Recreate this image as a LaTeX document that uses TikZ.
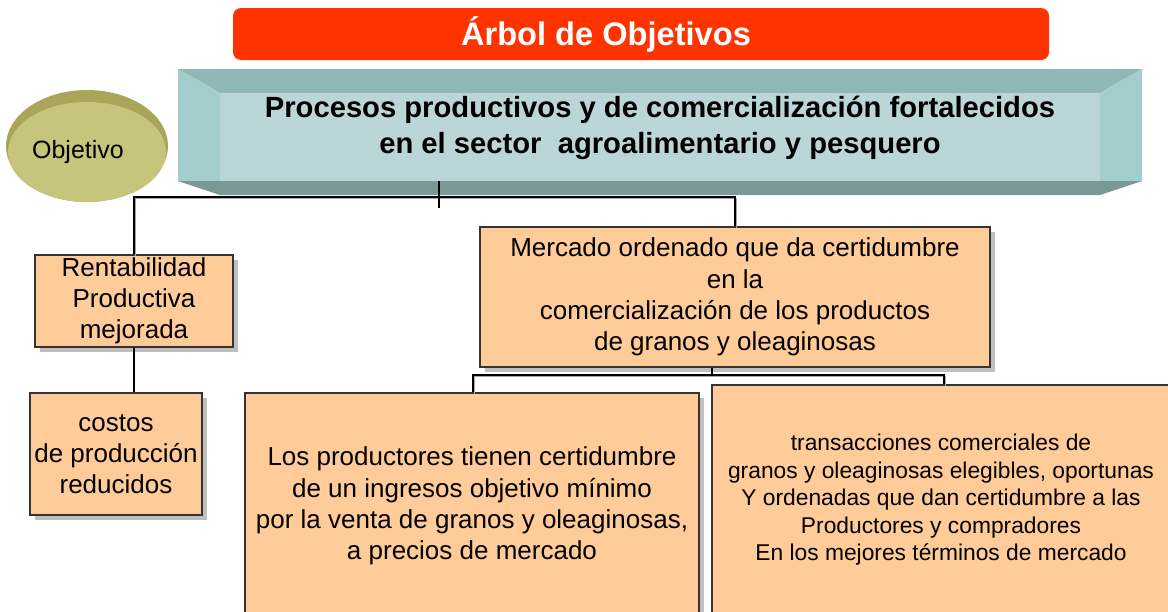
\documentclass[tikz,border=0pt]{standalone}
\usepackage{fontspec}
\setmainfont{Liberation Sans}
\usepackage{tikz}
\usetikzlibrary{shapes.geometric,shadows}

\definecolor{titlered}{HTML}{FF3300}
\definecolor{peach}{HTML}{FFCC99}
\definecolor{facecol}{HTML}{BBD6D8}
\definecolor{bevtopcol}{HTML}{8FB7B5}
\definecolor{bevsidecol}{HTML}{A3CDCC}
\definecolor{bevbotcol}{HTML}{799896}
\definecolor{olive}{HTML}{C7C47B}
\definecolor{oliverim}{HTML}{A9A65A}

\tikzset{
  titlebar/.style={fill=titlered, rounded corners=4pt, minimum width=408pt,
    minimum height=26pt, inner sep=0pt, text=white,
    font=\bfseries\fontsize{16.3}{18}\selectfont},
  box/.style={draw=black!80, line width=0.6pt, fill=peach, inner sep=0pt,
    align=center, font=\fontsize{13}{15.6}\selectfont,
    drop shadow={shadow xshift=2.5pt, shadow yshift=-2.5pt, fill=black!25, opacity=1}},
  conn/.style={draw=black, line width=0.6pt,
    preaction={draw=black!35, line width=0.6pt, transform canvas={shift={(0.6pt,-0.8pt)}}}},
  stub/.style={draw=black, line width=1.2pt}
}

\begin{document}
\begin{tikzpicture}[x=0.5pt,y=-0.5pt]
\path[use as bounding box] (0,0) rectangle (1168,611);
\clip (0,0) rectangle (1168,611);

% title
\node[titlebar] (titulo) at (641,34) {Árbol de Objetivos\hspace*{35pt}};

% main objective box
\fill[bevtopcol] (178,69) -- (1142,69) -- (1100,93) -- (220,93) -- cycle;
\fill[bevsidecol] (178,69) -- (220,93) -- (220,181) -- (178,181) -- cycle;
\fill[bevsidecol] (1142,69) -- (1142,181) -- (1100,181) -- (1100,93) -- cycle;
\fill[bevbotcol] (178,181) -- (1142,181) -- (1100,195) -- (220,195) -- cycle;
\fill[facecol] (220,93) rectangle (1100,181);
\node[align=center, font=\bfseries\fontsize{14.6}{18}\selectfont] (meta) at (660,128)
  {Procesos productivos y de comercialización fortalecidos\\
   en el sector~ agroalimentario y pesquero};

% label
\fill[oliverim] (87,146) ellipse [x radius=81, y radius=56];
\node[ellipse, fill=olive, minimum width=79pt, minimum height=50pt, inner sep=0pt,
  font=\fontsize{12.5}{15}\selectfont] (obj) at (87,152) {Objetivo\hspace*{9pt}};

% boxes
\node[box, minimum width=99pt, minimum height=46pt] (rent) at (134,301)
  {\rule{0pt}{6pt}Rentabilidad\\Productiva\\mejorada};
\node[box, minimum width=86pt, minimum height=61pt] (costos) at (116,454)
  {\rule{0pt}{6pt}costos\\de producción\\reducidos};
\node[box, minimum width=255pt, minimum height=70pt] (mercado) at (735,297)
  {\rule{0pt}{6pt}Mercado ordenado que da certidumbre\\en la\\comercialización de los productos\\de granos y oleaginosas};
\node[box, minimum width=227pt, minimum height=113pt] (prod) at (472,506)
  {Los productores tienen certidumbre\\de un ingresos objetivo mínimo\\por la venta de granos y oleaginosas,\\a precios de mercado};
\node[box, minimum width=229pt, minimum height=115pt, font=\fontsize{11.4}{13.75}\selectfont] (trans) at (941,500)
  {\rule{0pt}{6pt}transacciones comerciales de\\granos y oleaginosas elegibles, oportunas\\Y ordenadas que dan certidumbre a las\\Productores y compradores\\En los mejores términos de mercado};

% connectors
\coordinate (stubtop) at (439,181);
\coordinate (stubend) at (439,208);
\coordinate (barR) at (735,197);
\coordinate (mstub) at (712,375);
\coordinate (bar2L) at (473,375);
\coordinate (bar2R) at (944,375);

\draw[conn] (rent.north) |- (barR) -- (mercado.north);
\draw[stub] (stubtop) -- (stubend);
\draw[stub] (rent.south) -- (rent.south |- costos.north);
\draw[conn] (prod.north -| bar2L) -- (bar2L) -- (bar2R) -- (trans.north -| bar2R);
\draw[stub] (mercado.south -| mstub) -- (mstub);
\end{tikzpicture}
\end{document}
